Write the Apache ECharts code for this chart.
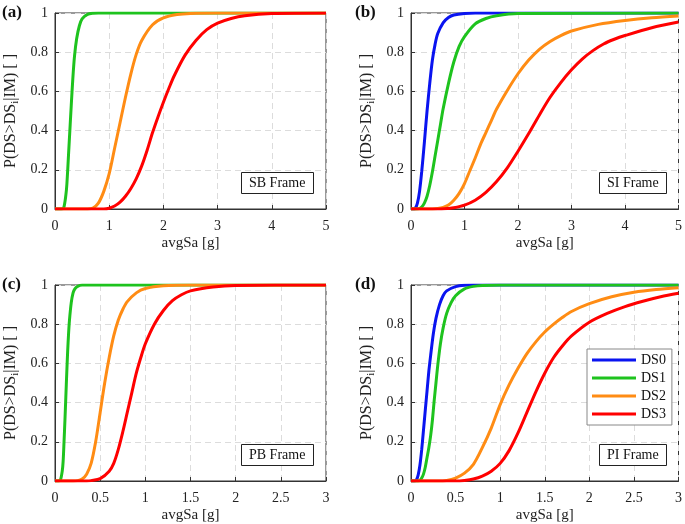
<!DOCTYPE html>
<html>
<head>
<meta charset="utf-8">
<script src="https://cdn.jsdelivr.net/npm/echarts@6/dist/echarts.min.js"></script>
<style>
  html, body { margin: 0; padding: 0; background: #fff; }
  #content { width: 685px; height: 524px; }
</style>
</head>
<body>
<div id="content"></div>
<script>
// values: [avgSa, probability]
// (a) SB Frame
var sbDS1 = [[0,0],[0.12,0],[0.16,0.005],[0.2,0.07],[0.22,0.13],[0.25,0.28],[0.28,0.43],[0.3,0.53],[0.33,0.67],[0.36,0.78],[0.4,0.87],[0.45,0.935],[0.5,0.97],[0.6,0.993],[0.7,0.999],[0.8,1],[5,1]];
var sbDS2 = [[0,0],[0.6,0],[0.7,0.005],[0.8,0.03],[0.9,0.09],[1.0,0.18],[1.1,0.31],[1.2,0.44],[1.3,0.57],[1.4,0.69],[1.5,0.79],[1.6,0.86],[1.8,0.94],[2.0,0.975],[2.25,0.992],[2.5,0.998],[3,1],[5,1]];
var sbDS3 = [[0,0],[0.9,0],[1.0,0.004],[1.1,0.015],[1.2,0.035],[1.3,0.065],[1.4,0.105],[1.5,0.155],[1.6,0.22],[1.7,0.3],[1.8,0.39],[1.9,0.47],[2.0,0.545],[2.1,0.615],[2.2,0.68],[2.4,0.785],[2.6,0.86],[2.8,0.915],[3.0,0.948],[3.25,0.972],[3.5,0.986],[4.0,0.997],[5,1]];
// (b) SI Frame
var siDS0 = [[0,0],[0.05,0],[0.08,0.003],[0.12,0.03],[0.16,0.09],[0.2,0.19],[0.25,0.34],[0.3,0.5],[0.35,0.64],[0.4,0.76],[0.45,0.84],[0.5,0.895],[0.6,0.95],[0.7,0.977],[0.8,0.99],[1.0,0.998],[1.2,1],[5,1]];
var siDS1 = [[0,0],[0.1,0],[0.15,0.002],[0.2,0.01],[0.25,0.03],[0.3,0.065],[0.35,0.12],[0.4,0.19],[0.45,0.27],[0.5,0.35],[0.55,0.43],[0.6,0.51],[0.7,0.64],[0.8,0.75],[0.9,0.83],[1.0,0.88],[1.2,0.945],[1.4,0.972],[1.6,0.986],[2.0,0.997],[5,1]];
var siDS2 = [[0,0],[0.4,0],[0.5,0.002],[0.6,0.008],[0.7,0.02],[0.8,0.045],[0.9,0.08],[1.0,0.13],[1.1,0.195],[1.2,0.26],[1.3,0.33],[1.4,0.39],[1.5,0.45],[1.6,0.51],[1.8,0.605],[2.0,0.69],[2.2,0.76],[2.4,0.815],[2.6,0.855],[2.8,0.885],[3.0,0.908],[3.5,0.942],[4.0,0.962],[4.5,0.976],[5.0,0.985]];
var siDS3 = [[0,0],[0.5,0],[0.7,0.003],[0.8,0.006],[1.0,0.02],[1.2,0.045],[1.4,0.085],[1.6,0.14],[1.8,0.21],[2.0,0.295],[2.2,0.385],[2.4,0.48],[2.6,0.57],[2.8,0.645],[3.0,0.71],[3.2,0.765],[3.4,0.808],[3.6,0.842],[3.8,0.866],[4.0,0.885],[4.5,0.925],[5.0,0.954]];
// (c) PB Frame
var pbDS1 = [[0,0],[0.04,0],[0.06,0.005],[0.08,0.05],[0.09,0.1],[0.1,0.2],[0.11,0.31],[0.12,0.43],[0.13,0.55],[0.14,0.66],[0.15,0.75],[0.16,0.82],[0.18,0.91],[0.2,0.96],[0.22,0.98],[0.25,0.993],[0.3,1],[3,1]];
var pbDS2 = [[0,0],[0.2,0],[0.25,0.002],[0.3,0.01],[0.35,0.035],[0.4,0.09],[0.45,0.2],[0.5,0.35],[0.55,0.5],[0.6,0.63],[0.65,0.74],[0.7,0.82],[0.75,0.875],[0.8,0.915],[0.9,0.96],[1.0,0.982],[1.2,0.996],[1.5,1],[3,1]];
var pbDS3 = [[0,0],[0.35,0],[0.4,0.002],[0.5,0.012],[0.6,0.05],[0.65,0.09],[0.7,0.16],[0.75,0.25],[0.8,0.35],[0.85,0.45],[0.9,0.55],[0.95,0.63],[1.0,0.7],[1.1,0.8],[1.2,0.87],[1.3,0.92],[1.4,0.95],[1.5,0.97],[1.75,0.99],[2.0,0.998],[3,1]];
// (d) PI Frame
var piDS0 = [[0,0],[0.04,0],[0.06,0.005],[0.08,0.03],[0.1,0.08],[0.12,0.16],[0.14,0.26],[0.16,0.36],[0.18,0.46],[0.2,0.56],[0.22,0.64],[0.25,0.75],[0.28,0.83],[0.32,0.9],[0.36,0.945],[0.4,0.97],[0.5,0.992],[0.6,0.999],[0.7,1],[3,1]];
var piDS1 = [[0,0],[0.08,0],[0.1,0.003],[0.12,0.015],[0.14,0.035],[0.16,0.07],[0.18,0.12],[0.2,0.17],[0.22,0.23],[0.24,0.31],[0.26,0.41],[0.28,0.5],[0.3,0.59],[0.33,0.7],[0.36,0.78],[0.4,0.855],[0.45,0.91],[0.5,0.945],[0.6,0.98],[0.7,0.993],[0.8,0.998],[1.0,1],[3,1]];
var piDS2 = [[0,0],[0.3,0],[0.4,0.003],[0.5,0.015],[0.6,0.04],[0.7,0.085],[0.8,0.17],[0.9,0.27],[1.0,0.39],[1.1,0.49],[1.2,0.575],[1.3,0.65],[1.4,0.71],[1.5,0.76],[1.6,0.8],[1.7,0.835],[1.8,0.865],[2.0,0.905],[2.25,0.94],[2.5,0.963],[2.75,0.977],[3.0,0.986]];
var piDS3 = [[0,0],[0.5,0],[0.6,0.003],[0.7,0.01],[0.8,0.025],[0.9,0.05],[1.0,0.09],[1.1,0.155],[1.2,0.245],[1.3,0.35],[1.4,0.455],[1.5,0.55],[1.6,0.63],[1.7,0.69],[1.8,0.74],[2.0,0.81],[2.2,0.855],[2.4,0.89],[2.6,0.917],[2.8,0.94],[3.0,0.958]];

var dsNames = ['DS0', 'DS1', 'DS2', 'DS3'];
var panelLabels = ['(a)', '(b)', '(c)', '(d)'];
var frameLabels = ['SB Frame', 'SI Frame', 'PB Frame', 'PI Frame'];
var xMax = [5, 5, 3, 3];
var xStep = [1, 1, 0.5, 0.5];

var colors = {DS0: '#0a14f0', DS1: '#1ec31e', DS2: '#ff8c14', DS3: '#ff0000'};
var serif = 'Liberation Serif';

var myChart = echarts.init(document.getElementById('content'));

var grids = [
    {left: 55, top: 13, width: 271, height: 196},
    {left: 411, top: 13, width: 271, height: 196},
    {left: 55, top: 285, width: 271, height: 197},
    {left: 411, top: 285, width: 271, height: 197}
];
var panelPos = [[2, 4], [355, 4], [2, 276], [355, 276]];
var framePos = [[241, 172], [599, 172], [241, 444], [599, 444]];

var xAxes = [], yAxes = [], titles = [];
for (var i = 0; i < 4; i++) {
    grids[i].show = true;
    grids[i].borderColor = '#333';
    grids[i].borderWidth = 1;
    xAxes.push({
        type: 'value', gridIndex: i, min: 0, max: xMax[i], interval: xStep[i],
        name: 'avgSa [g]', nameLocation: 'middle', nameGap: 27,
        nameTextStyle: {fontFamily: serif, fontSize: 15, color: '#222'},
        axisLine: {lineStyle: {color: '#333'}},
        axisTick: {inside: true, length: 4, lineStyle: {color: '#333'}},
        axisLabel: {fontFamily: serif, fontSize: 14, color: '#222', margin: 10},
        splitLine: {lineStyle: {type: [6, 4], color: '#dcdcdc'}}
    });
    yAxes.push({
        type: 'value', gridIndex: i, min: 0, max: 1, interval: 0.2,
        name: '{n|P(DS>DS}{s|i}{n||IM) [ ]}', nameLocation: 'middle', nameGap: 34,
        nameTextStyle: {
            color: '#222',
            rich: {
                n: {fontFamily: serif, fontSize: 16, color: '#222', lineHeight: 20},
                s: {fontFamily: serif, fontSize: 11, color: '#222', lineHeight: 20, verticalAlign: 'bottom', padding: [6, 0, 0, 0]}
            }
        },
        axisLine: {lineStyle: {color: '#333'}},
        axisTick: {inside: true, length: 4, lineStyle: {color: '#333'}},
        axisLabel: {fontFamily: serif, fontSize: 14, color: '#222', margin: 7},
        splitLine: {lineStyle: {type: [6, 4], color: '#dcdcdc'}}
    });
    titles.push({
        text: panelLabels[i], left: panelPos[i][0], top: panelPos[i][1], padding: 0,
        textStyle: {fontFamily: serif, fontSize: 17, fontWeight: 'bold', color: '#111'}
    });
    titles.push({
        text: frameLabels[i], left: framePos[i][0], top: framePos[i][1],
        padding: [3, 8, 3, 8], borderColor: '#222', borderWidth: 1, backgroundColor: '#fff',
        textStyle: {fontFamily: serif, fontSize: 14, fontWeight: 'normal', color: '#111', lineHeight: 16}
    });
}

function line(name, idx, data) {
    return {
        name: name, type: 'line', xAxisIndex: idx, yAxisIndex: idx,
        data: data, showSymbol: false, smooth: 0.3,
        lineStyle: {width: 3, color: colors[name]},
        itemStyle: {color: colors[name]},
        animation: false
    };
}

var option = {
    title: titles,
    grid: grids,
    xAxis: xAxes,
    yAxis: yAxes,
    legend: {
        data: dsNames, orient: 'vertical', left: 587, top: 349,
        icon: 'rect', itemWidth: 44, itemHeight: 3, itemGap: 2,
        padding: [3, 6, 3, 5], borderColor: '#888', borderWidth: 1, backgroundColor: '#fff',
        textStyle: {fontFamily: serif, fontSize: 14, color: '#111', lineHeight: 16}
    },
    series: [
        line('DS1', 0, sbDS1), line('DS2', 0, sbDS2), line('DS3', 0, sbDS3),
        line('DS0', 1, siDS0), line('DS1', 1, siDS1), line('DS2', 1, siDS2), line('DS3', 1, siDS3),
        line('DS1', 2, pbDS1), line('DS2', 2, pbDS2), line('DS3', 2, pbDS3),
        line('DS0', 3, piDS0), line('DS1', 3, piDS1), line('DS2', 3, piDS2), line('DS3', 3, piDS3)
    ]
};

myChart.setOption(option);
</script>
</body>
</html>
